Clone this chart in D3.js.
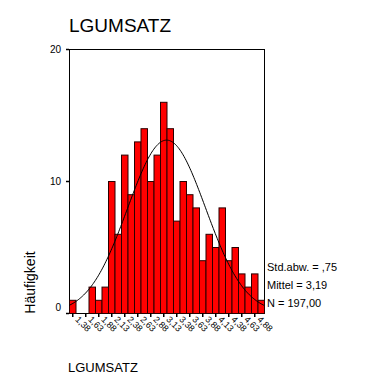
<!DOCTYPE html>
<html>
<head>
<meta charset="utf-8">
<script src="https://cdn.jsdelivr.net/npm/d3@7"></script>
<style>
  html, body { margin: 0; padding: 0; background: #fff; }
  svg { display: block; font-family: Arial, "Liberation Sans", sans-serif; }
</style>
</head>
<body>
<svg id="chart" width="379" height="385"></svg>
<script>
// ---- data ----
const title = "LGUMSATZ";
const xTitle = "LGUMSATZ";
const yTitle = "Häufigkeit";
const binStart = 1.3125;   // lower edge of first bin
const binWidth = 0.125;
const counts = [1, 0, 0, 2, 1, 2, 10, 6, 12, 9, 13, 14, 10, 12, 16, 14, 7, 10, 9, 8, 4, 6, 5, 8, 4, 5, 3, 2, 3, 1];
const xTickValues = [1.375, 1.625, 1.875, 2.125, 2.375, 2.625, 2.875, 3.125, 3.375, 3.625, 3.875, 4.125, 4.375, 4.625, 4.875];
const xTickLabels = ["1,38", "1,63", "1,88", "2,13", "2,38", "2,63", "2,88", "3,13", "3,38", "3,63", "3,88", "4,13", "4,38", "4,63", "4,88"];
const yTickValues = [0, 10, 20];
const statMean = 3.19;
const statSd = 0.75;
const statN = 197;
const statLabels = ["Std.abw. = ,75", "Mittel = 3,19", "N = 197,00"];

// ---- layout ----
const svg = d3.select("#chart");
const plotL = 69, plotR = 264, plotT = 49, plotB = 313;

const bins = counts.map((c, i) => ({ x0: binStart + i * binWidth, x1: binStart + (i + 1) * binWidth, count: c }));

const x = d3.scaleLinear()
  .domain([binStart, binStart + counts.length * binWidth])
  .range([plotL, plotR]);
const y = d3.scaleLinear().domain([0, 20]).range([plotB, plotT]);

// title
svg.append("text")
  .attr("x", 69).attr("y", 32)
  .attr("font-size", 19)
  .attr("fill", "#000")
  .text(title);

// frame
svg.append("rect")
  .attr("x", plotL + 0.5).attr("y", plotT + 0.5)
  .attr("width", plotR - plotL).attr("height", plotB - plotT)
  .attr("fill", "none").attr("stroke", "#000").attr("stroke-width", 1);

// bars
svg.append("g").selectAll("rect")
  .data(bins.filter(d => d.count > 0))
  .join("rect")
  .attr("x", d => x(d.x0) + 0.5)
  .attr("y", d => y(d.count) + 0.5)
  .attr("width", d => x(d.x1) - x(d.x0))
  .attr("height", d => y(0) - y(d.count))
  .attr("fill", "#ff0000")
  .attr("stroke", "#2a0000")
  .attr("stroke-width", 1);

// normal curve
const pdf = v => statN * binWidth / (statSd * Math.sqrt(2 * Math.PI)) * Math.exp(-0.5 * Math.pow((v - statMean) / statSd, 2));
const xs = d3.range(0, 201).map(i => x.domain()[0] + (x.domain()[1] - x.domain()[0]) * i / 200);
svg.append("path")
  .datum(xs)
  .attr("d", d3.line().x(v => x(v)).y(v => y(pdf(v))).curve(d3.curveBasis))
  .attr("fill", "none")
  .attr("stroke", "#000")
  .attr("stroke-width", 1);

// y axis
const yAxis = svg.append("g")
  .attr("transform", `translate(${plotL},0)`)
  .call(d3.axisLeft(y).tickValues(yTickValues).tickSize(3).tickPadding(5).tickFormat(d3.format("d")));
yAxis.select(".domain").remove();
yAxis.selectAll("text").attr("font-size", 10).attr("font-family", "Arial, 'Liberation Sans', sans-serif").attr("fill", "#000");
yAxis.selectAll(".tick").filter(d => d === 0).select("text").attr("dy", "-0.25em");
yAxis.selectAll("line").attr("stroke", "#000").attr("stroke-width", 1.5);

// x axis
const xAxis = svg.append("g")
  .attr("transform", `translate(0,${plotB})`)
  .call(d3.axisBottom(x).tickValues(xTickValues).tickSize(4).tickFormat((d, i) => xTickLabels[i]));
xAxis.select(".domain").remove();
xAxis.selectAll("line").attr("stroke", "#000").attr("stroke-width", 1.5);
xAxis.selectAll("text")
  .attr("font-size", 9)
  .attr("font-family", "Arial, 'Liberation Sans', sans-serif")
  .attr("fill", "#000")
  .attr("text-anchor", "start")
  .attr("y", 0).attr("dy", 0)
  .attr("transform", "translate(2,7) rotate(45)");

// axis titles
svg.append("text")
  .attr("x", 68).attr("y", 372)
  .attr("font-size", 13)
  .text(xTitle);
svg.append("text")
  .attr("transform", "translate(35,282.5) rotate(-90)")
  .attr("text-anchor", "middle")
  .attr("font-size", 14)
  .text(yTitle);

// stats legend
svg.append("g").selectAll("text")
  .data(statLabels)
  .join("text")
  .attr("x", 267)
  .attr("y", (d, i) => 270.5 + i * 18)
  .attr("font-size", 11)
  .text(d => d);
</script>
</body>
</html>
